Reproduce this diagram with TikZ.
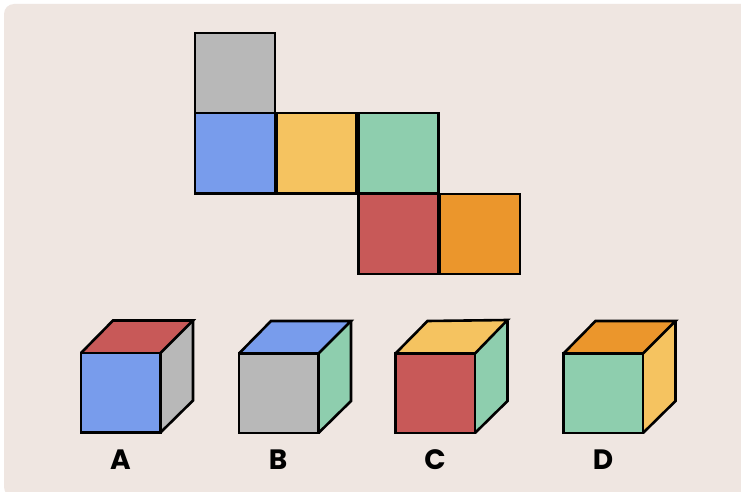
\documentclass[tikz,border=0pt]{standalone}
\usepackage{fontspec}
\setmainfont{Poppins}
\definecolor{bgc}{HTML}{EFE6E1}
\definecolor{grayf}{HTML}{B8B8B8}
\definecolor{bluef}{HTML}{789CEC}
\definecolor{yellowf}{HTML}{F5C360}
\definecolor{greenf}{HTML}{8ECEAE}
\definecolor{redf}{HTML}{C85958}
\definecolor{orangef}{HTML}{EB962C}
\tikzset{
  face/.style={draw=black,line width=2.6pt,line join=miter},
  netface/.style={draw=black,line width=2.4pt,minimum width=80pt,minimum height=80pt,inner sep=0pt,outer sep=0pt,anchor=center},
  cubelabel/.style={font=\bfseries\fontsize{28}{28}\selectfont,text=black,inner sep=0pt}
}
\newcommand{\mycube}[6]{% x y front top side label
  \fill[#3] (#1,#2) rectangle ++(79.5,79.5);
  \fill[#4] (#1,#2) -- ++(32,-32.5) -- ++(80,#6) -- ++(-32,32.5-#6) -- cycle;
  \fill[#5] (#1+79.5,#2) -- ++(32.5,-32.5) -- ++(0,80) -- ++(-32.5,32) -- cycle;
  \draw[face] (#1,#2) rectangle ++(79.5,79.5);
  \draw[face] (#1,#2) -- ++(32,-32.5) -- ++(80,#6) -- ++(-32.5,32.5-#6);
  \draw[face] (#1+112,#2-32.5) -- ++(0,80) -- ++(-32.5,32);
}
\begin{document}
\begin{tikzpicture}[x=1pt,y=-1pt]
\useasboundingbox (0,0) rectangle (741,492);
\fill[white] (0,0) rectangle (741,492);
\fill[bgc,rounded corners=10pt] (4,4) rectangle (760,497);
\node[netface,fill=grayf] (n1) at (235.2,73.3) {};
\node[netface,fill=bluef] (n2) at (235.2,153.3) {};
\node[netface,fill=yellowf] (n3) at (316.5,153.3) {};
\node[netface,fill=greenf] (n4) at (398.4,153.3) {};
\node[netface,fill=redf] (n5) at (398.4,234.2) {};
\node[netface,fill=orangef] (n6) at (479.8,234.2) {};
\mycube{81}{353}{bluef}{redf}{grayf}{0}
\mycube{239}{353.5}{grayf}{bluef}{greenf}{0}
\mycube{395.5}{353.5}{redf}{yellowf}{greenf}{-1}
\mycube{563.5}{353.5}{greenf}{orangef}{yellowf}{0}
\node[cubelabel] (la) at (120.5,460) {A};
\node[cubelabel] (lb) at (278,460) {B};
\node[cubelabel] (lc) at (435,460) {C};
\node[cubelabel] (ld) at (603,460) {D};
\end{tikzpicture}
\end{document}
